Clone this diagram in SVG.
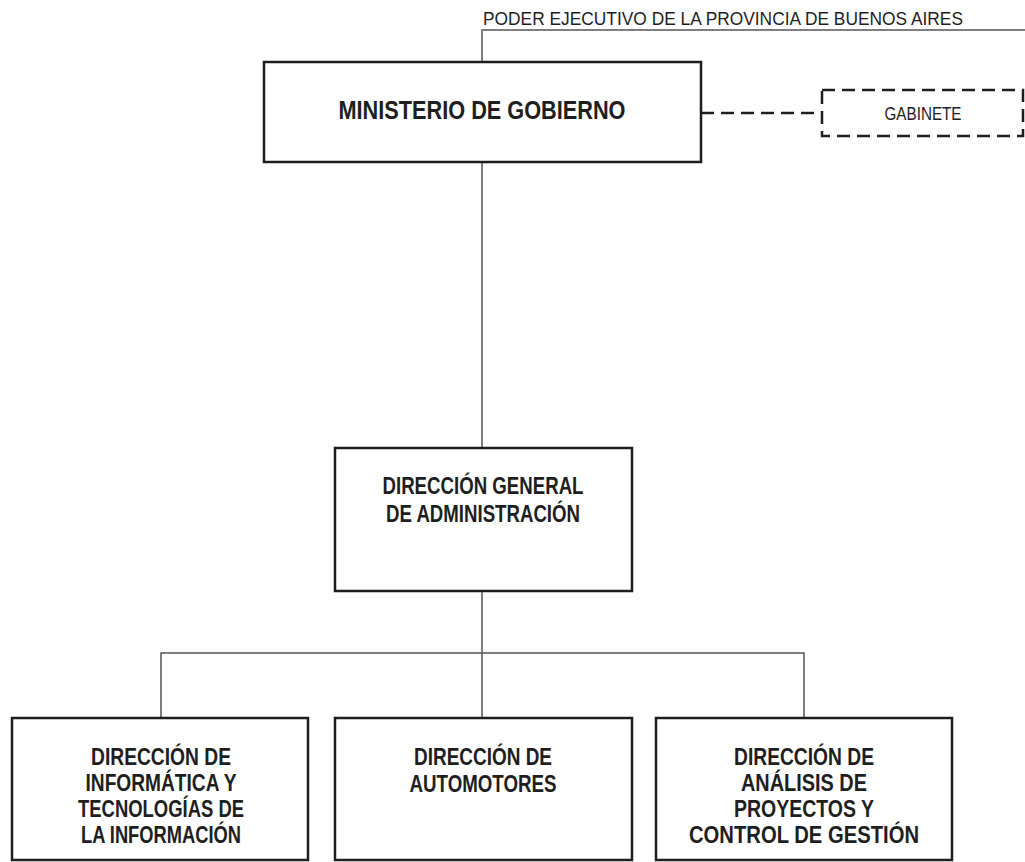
<svg xmlns="http://www.w3.org/2000/svg" width="1025" height="862" viewBox="0 0 1025 862">
<style>
.box{fill:#fff;stroke:#1e1e1e;stroke-width:2.5}
.dbox{fill:#fff;stroke:#1e1e1e;stroke-width:2.5;stroke-dasharray:13 7}
.ln{fill:none;stroke:#555;stroke-width:1.5}
.dl{fill:none;stroke:#1e1e1e;stroke-width:2.5;stroke-dasharray:13 7}
.t{font-family:"Liberation Sans",Arial,sans-serif;fill:#1e1e1e;text-anchor:middle}
.b{font-weight:bold;font-size:23px}
</style>
<rect width="1025" height="862" fill="#fff"/>
<g id="connectors">
<polyline class="ln" points="482,62 482,30 1025,30"/>
<line class="ln" x1="482" y1="162" x2="482" y2="448"/>
<line class="ln" x1="482" y1="591" x2="482" y2="718"/>
<polyline class="ln" points="161,718 161,653 804,653 804,718"/>
<line class="dl" x1="701" y1="113" x2="822" y2="113"/>
</g>
<g id="poder">
<text class="t" x="723" y="25" font-size="18.5" textLength="480" lengthAdjust="spacingAndGlyphs">PODER EJECUTIVO DE LA PROVINCIA DE BUENOS AIRES</text>
</g>
<g id="ministerio">
<rect class="box" x="264" y="62" width="437" height="100"/>
<text class="t" x="482" y="119" font-size="26.5" font-weight="bold" textLength="287" lengthAdjust="spacingAndGlyphs">MINISTERIO DE GOBIERNO</text>
</g>
<g id="gabinete">
<rect class="dbox" x="822" y="90" width="201" height="46"/>
<text class="t" x="923" y="120" font-size="18" textLength="77" lengthAdjust="spacingAndGlyphs">GABINETE</text>
</g>
<g id="dga">
<rect class="box" x="335" y="448" width="297" height="143"/>
<text class="t b" x="483" y="494" font-size="22" textLength="201" lengthAdjust="spacingAndGlyphs">DIRECCIÓN GENERAL</text>
<text class="t b" x="483" y="522" textLength="194" lengthAdjust="spacingAndGlyphs">DE ADMINISTRACIÓN</text>
</g>
<g id="informatica">
<rect class="box" x="12" y="718" width="296" height="142"/>
<text class="t b" x="161" y="765" textLength="140" lengthAdjust="spacingAndGlyphs">DIRECCIÓN DE</text>
<text class="t b" x="161" y="791" textLength="151" lengthAdjust="spacingAndGlyphs">INFORMÁTICA Y</text>
<text class="t b" x="161" y="817" textLength="166" lengthAdjust="spacingAndGlyphs">TECNOLOGÍAS DE</text>
<text class="t b" x="161" y="843" textLength="160" lengthAdjust="spacingAndGlyphs">LA INFORMACIÓN</text>
</g>
<g id="automotores">
<rect class="box" x="335" y="718" width="297" height="142"/>
<text class="t b" x="483" y="765" textLength="138" lengthAdjust="spacingAndGlyphs">DIRECCIÓN DE</text>
<text class="t b" x="483" y="792" textLength="147" lengthAdjust="spacingAndGlyphs">AUTOMOTORES</text>
</g>
<g id="analisis">
<rect class="box" x="656" y="718" width="296" height="142"/>
<text class="t b" x="804" y="765" textLength="140" lengthAdjust="spacingAndGlyphs">DIRECCIÓN DE</text>
<text class="t b" x="804" y="791" textLength="126" lengthAdjust="spacingAndGlyphs">ANÁLISIS DE</text>
<text class="t b" x="804" y="817" textLength="140" lengthAdjust="spacingAndGlyphs">PROYECTOS Y</text>
<text class="t b" x="804" y="843" textLength="230" lengthAdjust="spacingAndGlyphs">CONTROL DE GESTIÓN</text>
</g>
</svg>
